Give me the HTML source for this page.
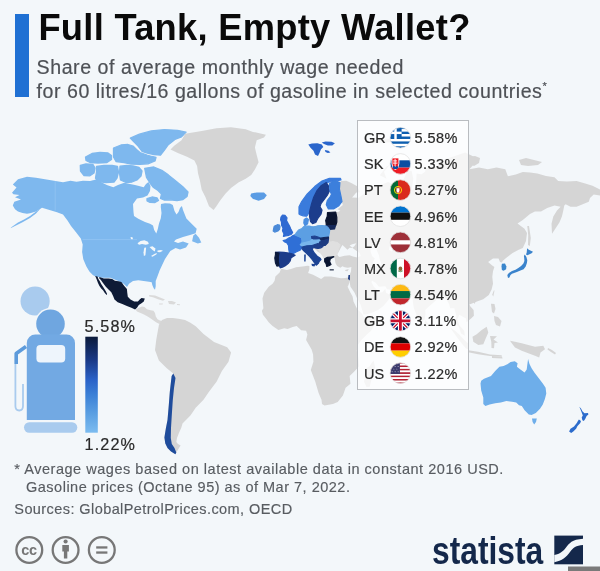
<!DOCTYPE html>
<html><head><meta charset="utf-8"><title>Full Tank, Empty Wallet?</title>
<style>
html,body{margin:0;padding:0;}
body{width:600px;height:571px;overflow:hidden;background:#f3f7fa;position:relative;font-family:'Liberation Sans', Arial, sans-serif;}
.abs{position:absolute;}
#bar{left:15px;top:14px;width:13.5px;height:83px;background:#1f70d3;}
#title{left:38.4px;top:6px;font-size:36.3px;font-weight:700;color:#0a0a0a;white-space:nowrap;line-height:44px;letter-spacing:0.28px;}
.sub{left:36.6px;font-size:19.6px;color:#4e5156;white-space:nowrap;letter-spacing:0.55px;-webkit-text-stroke:0.2px #4e5156;line-height:23px;}
.sub sup{font-size:11px;vertical-align:0;position:relative;top:-8px;letter-spacing:0;}
#map{left:0;top:0;}
#panel{left:357px;top:120px;width:109.5px;height:267.5px;background:rgba(255,255,255,0.76);border:1px solid #b9bcc0;}
.code{position:absolute;left:364px;font-size:14.5px;color:#2a2a2a;line-height:20px;-webkit-text-stroke:0.2px #2a2a2a;}
.val{position:absolute;left:414.5px;font-size:14.5px;color:#2a2a2a;line-height:20px;letter-spacing:0.45px;-webkit-text-stroke:0.2px #2a2a2a;}
.leg{font-size:16.2px;color:#2a2a2a;-webkit-text-stroke:0.2px #2a2a2a;white-space:nowrap;line-height:20px;letter-spacing:1.1px;}
.note{font-size:14.5px;color:#585c61;-webkit-text-stroke:0.15px #585c61;white-space:nowrap;line-height:18px;letter-spacing:0.45px;}
#statista{left:432px;top:529px;font-size:38.5px;font-weight:700;color:#14284b;white-space:nowrap;transform-origin:0 0;transform:scaleX(0.825);letter-spacing:0px;line-height:44px;}
</style></head><body>
<svg id="map" class="abs" width="600" height="571" viewBox="0 0 600 571">
<path fill="#7eb8ee" d="M18.0,179.3 27.0,176.7 36.0,177.7 45.0,179.3 54.0,180.8 63.0,182.3 70.5,180.8 76.5,181.8 83.0,180.7 90.0,181.0 96.0,179.6 101.0,182.0 106.8,185.0 113.3,187.2 118.0,185.0 124.2,182.8 130.0,184.0 135.0,185.0 139.0,186.0 143.7,187.2 146.0,184.0 148.5,182.0 150.5,186.0 150.0,191.0 147.5,195.5 143.0,197.5 137.0,198.5 133.0,204.0 133.5,212.0 134.0,216.0 138.3,218.8 145.0,222.0 150.0,223.8 153.0,225.5 154.2,230.0 156.3,233.5 157.8,229.0 159.0,223.5 160.8,218.3 161.5,213.0 160.8,207.0 161.0,204.0 165.0,203.2 170.0,203.5 172.8,205.0 174.5,211.0 176.5,214.5 178.5,212.0 180.0,208.0 181.9,206.0 183.0,210.0 186.4,218.5 192.1,224.2 196.7,228.7 195.6,233.3 190.0,235.0 183.0,237.0 176.0,239.5 174.0,241.5 178.0,243.0 183.0,241.5 188.7,243.5 186.0,247.5 180.0,249.5 175.6,248.0 170.3,251.0 167.0,256.0 165.0,258.9 161.7,266.0 159.7,270.3 157.7,275.7 155.7,281.0 155.7,286.3 155.0,289.7 153.7,288.3 152.3,285.0 151.7,282.3 149.0,281.7 143.7,281.0 138.3,280.3 133.0,281.0 129.0,283.7 127.0,287.0 123.7,283.7 118.3,281.0 110.3,277.7 102.3,277.7 95.6,276.4 93.1,275.2 89.4,271.5 86.4,266.6 83.3,259.2 82.1,251.9 82.7,244.5 80.8,238.4 76.0,232.3 71.0,226.1 67.5,220.5 63.0,214.5 57.0,212.3 49.5,210.0 42.0,207.8 36.0,211.5 30.0,213.2 27.0,213.8 22.5,213.0 18.0,211.5 15.0,209.3 12.8,205.5 14.3,201.8 21.0,199.5 15.0,197.3 19.5,195.0 13.5,194.3 12.0,192.8 16.5,187.5 12.8,184.5Z"/>
<path fill="#7eb8ee" d="M40.5,208.5 36.0,211.5 30.0,216.0 24.0,219.5 18.0,222.5 11.3,227.3 10.5,228.3 15.0,226.0 22.5,222.3 30.0,218.0 36.0,213.5Z"/>
<path fill="#7eb8ee" stroke="#7eb8ee" stroke-width="1.3" stroke-linejoin="round" d="M130.3,138.1 139.4,134.2 151.3,130.9 164.4,129.6 177.5,130.3 186.0,132.2 181.5,136.8 174.9,139.4 168.3,144.7 164.4,150.0 160.5,155.2 153.9,154.5 147.3,153.2 142.1,151.3 138.1,146.0 132.9,140.8Z"/>
<path fill="#7eb8ee" stroke="#7eb8ee" stroke-width="1.3" stroke-linejoin="round" d="M113.5,148.0 121.0,145.0 128.0,144.5 133.0,146.0 136.5,149.5 140.0,152.5 147.0,155.0 152.0,156.5 156.0,157.5 155.0,161.0 148.0,163.8 140.0,164.3 131.0,164.0 124.0,162.5 116.0,161.5 113.5,157.0Z"/>
<path fill="#7eb8ee" stroke="#7eb8ee" stroke-width="1.3" stroke-linejoin="round" d="M85.5,157.0 92.0,153.5 100.0,152.5 108.0,153.0 111.5,155.5 111.5,159.5 107.0,162.5 98.0,163.0 90.0,162.5 86.0,160.5Z"/>
<path fill="#7eb8ee" stroke="#7eb8ee" stroke-width="1.3" stroke-linejoin="round" d="M80.3,165.5 86.0,164.0 93.0,164.5 95.0,168.0 94.0,173.0 90.0,175.8 84.0,175.5 80.5,171.0Z"/>
<path fill="#7eb8ee" stroke="#7eb8ee" stroke-width="1.3" stroke-linejoin="round" d="M96.5,166.5 104.0,165.5 112.0,165.3 117.5,166.5 118.5,172.0 117.0,178.0 114.0,182.0 106.0,182.5 98.0,181.5 95.5,178.0 96.5,172.0Z"/>
<path fill="#7eb8ee" stroke="#7eb8ee" stroke-width="1.3" stroke-linejoin="round" d="M120.0,166.2 127.0,165.5 133.0,166.0 139.0,167.5 142.0,171.0 141.0,176.0 137.0,180.0 132.0,182.0 126.0,182.5 120.5,180.0 119.5,173.0Z"/>
<path fill="#7eb8ee" stroke="#7eb8ee" stroke-width="1.3" stroke-linejoin="round" d="M144.7,168.3 153.9,167.0 161.8,170.3 168.3,174.9 174.9,180.2 182.8,186.7 188.0,192.0 187.0,196.5 183.0,199.5 177.0,200.5 170.0,199.8 164.0,200.0 160.5,198.5 161.5,194.0 158.0,190.5 153.5,187.5 150.0,183.0 146.5,177.5Z"/>
<path fill="#7eb8ee" stroke="#7eb8ee" stroke-width="1.3" stroke-linejoin="round" d="M147.0,198.5 152.0,197.0 157.0,197.8 158.5,200.5 155.0,202.5 150.0,202.3 147.0,200.8Z"/>
<path fill="#f3f7fa" d="M137.5,243.3 140.5,241.0 144.3,240.3 148.0,241.8 148.8,244.0 145.8,244.8 142.0,244.0 139.0,244.8Z"/>
<path fill="#f3f7fa" d="M144.3,247.8 146.1,247.4 145.8,251.5 145.4,255.3 143.9,256.0 143.5,252.3Z"/>
<path fill="#f3f7fa" d="M149.5,247.0 152.5,246.3 155.5,248.5 154.8,251.5 152.5,250.0 151.0,248.5Z"/>
<path fill="#f3f7fa" d="M151.0,256.0 154.8,253.8 157.0,253.0 156.3,254.5 152.5,256.8Z"/>
<path fill="#f3f7fa" d="M157.5,250.5 161.0,250.0 163.0,250.8 160.0,252.3 157.5,252.0Z"/>
<path fill="#f3f7fa" d="M130.5,237.0 132.5,237.3 133.0,239.5 131.0,239.2Z"/>
<path fill="#7eb8ee" d="M193.3,235.6 195.6,233.8 199.0,237.8 201.3,242.4 197.8,243.5 192.1,241.3Z"/>
<path fill="#d5d5d5" d="M185.2,133.8 201.7,131.0 216.4,128.3 231.0,127.3 245.7,129.2 253.0,131.9 265.9,134.7 264.0,137.4 256.7,140.2 254.9,147.5 256.7,154.9 258.6,162.2 254.9,169.5 251.2,175.0 245.7,178.7 238.4,182.4 231.0,187.9 225.6,193.4 220.0,200.7 216.4,206.2 213.6,209.9 209.0,206.2 205.4,197.1 201.7,189.7 199.9,180.6 198.0,173.2 197.1,165.9 194.4,160.4 187.0,156.7 177.8,153.0 170.5,149.4 174.2,145.7 181.5,140.2Z"/>
<path fill="#5a9ce4" d="M251.2,193.4 256.7,192.5 264.0,192.5 266.8,195.2 264.0,198.9 258.6,200.7 253.0,198.9 250.3,196.1Z"/>
<path fill="#0e1b36" d="M99.3,277.0 103.9,278.4 108.5,278.4 112.2,278.9 114.9,280.7 118.6,281.2 121.4,282.1 124.1,285.8 126.9,289.0 127.3,293.1 127.8,296.8 130.5,299.5 134.2,301.4 137.9,301.4 139.7,299.5 141.5,298.1 144.8,298.6 143.8,301.4 141.5,303.2 138.8,305.0 137.0,307.8 135.1,309.6 131.4,307.8 126.9,305.9 122.3,304.1 117.7,302.3 114.5,299.5 113.1,295.9 111.3,292.2 108.5,289.4 105.8,286.7 103.0,283.0 100.7,279.8 99.3,278.4Z"/>
<path fill="#0e1b36" d="M95.2,276.1 97.5,276.6 98.4,278.9 99.8,281.2 101.2,283.9 103.5,287.6 105.8,291.3 107.1,294.0 106.7,294.9 104.8,293.1 103.0,290.3 101.2,288.5 99.3,285.8 98.0,283.0 96.6,279.3Z"/>
<path fill="#d9d9d9" d="M135.5,309.5 139.0,307.8 142.0,306.5 144.5,307.0 147.0,309.3 150.5,310.3 153.5,310.8 155.0,313.0 155.8,316.5 157.5,319.3 160.0,320.6 163.0,321.3 164.5,322.5 162.0,324.8 159.0,323.8 156.0,322.3 152.5,319.8 148.5,317.0 144.0,314.5 140.0,312.8 137.0,311.5Z"/>
<path fill="#dadada" d="M149.0,295.0 155.0,295.5 160.0,297.5 165.0,299.5 163.0,300.7 158.0,299.3 153.0,297.3 149.3,296.6Z"/>
<path fill="#dadada" d="M168.0,301.0 172.0,301.0 176.0,302.5 174.0,304.5 169.0,304.0Z"/>
<path fill="#dadada" d="M159.0,303.5 163.0,303.6 162.5,304.6 159.2,304.4Z"/>
<path fill="#dadada" d="M177.0,304.0 180.0,304.2 179.8,305.2 177.0,305.0Z"/>
<path fill="#d5d5d5" d="M158.9,325.0 162.0,320.0 167.0,318.0 173.0,318.0 180.0,319.0 185.0,320.0 190.0,322.5 195.7,326.3 203.5,334.1 214.0,342.0 227.2,347.3 231.1,352.5 228.5,361.7 221.9,370.9 216.7,381.4 208.8,392.0 203.5,399.8 195.7,407.7 190.4,415.6 182.5,423.5 181.2,428.0 178.9,433.1 177.0,438.0 176.3,441.9 178.0,444.0 180.6,445.4 179.0,448.0 176.3,452.4 175.4,454.2 171.0,451.5 167.5,448.0 165.3,443.6 164.4,437.5 165.8,428.8 167.5,420.0 168.8,405.0 169.8,392.0 170.7,384.0 173.3,373.5 166.8,368.3 158.9,360.4 155.0,349.9 156.3,339.4Z"/>
<path fill="#1f4c9c" d="M173.3,373.5 175.5,378.0 174.0,388.0 172.8,400.0 171.8,415.0 171.0,428.0 170.8,438.0 171.8,444.0 174.5,448.0 176.3,452.4 175.4,454.2 171.0,451.5 167.5,448.0 165.3,443.6 164.4,437.5 165.8,428.8 167.5,420.0 168.8,405.0 169.8,392.0 170.7,384.0 171.6,376.0Z"/>
<path fill="#d5d5d5" d="M281.1,268.7 286.8,269.9 291.0,268.9 296.0,267.2 304.4,266.3 307.4,265.7 309.4,266.1 309.4,269.3 308.1,272.9 313.1,274.7 321.1,279.1 324.5,276.4 331.2,276.4 341.1,278.2 345.1,278.0 348.5,277.6 349.6,281.7 348.5,285.1 347.6,286.7 350.5,292.7 352.6,296.6 353.5,301.5 355.8,306.3 357.2,309.1 362.2,313.9 363.5,316.7 366.4,318.6 371.4,317.7 376.9,316.2 376.1,319.5 373.9,325.2 371.1,330.8 366.9,334.5 361.4,340.1 357.5,345.6 356.8,350.9 358.3,356.9 359.2,366.3 353.8,372.0 349.6,375.9 350.5,383.7 345.6,387.7 342.9,395.5 337.7,401.9 332.9,404.0 324.5,405.6 322.0,404.0 321.5,399.8 318.6,392.9 315.3,381.7 310.8,370.1 313.4,361.8 313.1,354.6 311.6,349.4 306.1,340.1 307.4,334.5 306.1,330.8 301.1,330.2 296.7,326.1 292.7,327.0 287.6,328.9 284.3,328.3 278.4,330.0 272.6,326.1 268.9,322.4 265.9,318.6 262.9,314.8 261.9,310.7 263.4,308.2 262.5,298.6 264.2,292.7 268.7,286.7 272.6,283.7 274.6,280.7 275.4,276.6 279.6,272.4Z"/>
<path fill="#d5d5d5" d="M373.6,360.6 375.1,367.3 373.7,372.0 371.4,379.8 369.7,386.7 366.5,386.9 364.0,381.7 365.2,375.9 365.5,368.2 369.7,366.3 371.9,362.5Z"/>
<path fill="#d5d5d5" d="M341.2,181.0 346.3,180.7 351.3,183.0 357.2,186.2 360.0,192.2 356.3,192.5 352.1,197.4 358.8,197.7 364.7,193.1 364.7,186.9 369.7,187.8 380.6,184.9 388.1,182.0 393.2,184.3 399.9,182.0 404.9,185.3 403.2,180.3 407.4,170.7 411.6,170.7 413.3,178.7 411.6,190.6 415.8,186.9 416.6,173.5 421.6,174.2 425.0,171.8 425.8,168.2 436.7,166.4 440.1,160.9 451.8,157.1 465.2,152.4 478.6,159.0 469.4,169.3 479.0,167.5 487.8,169.3 496.5,167.5 505.3,169.3 507.9,176.3 515.8,174.5 522.8,171.9 530.0,172.4 537.4,173.6 546.0,176.0 554.5,177.3 558.2,181.0 566.8,181.5 576.6,181.0 585.2,183.4 592.5,185.8 600.0,189.5 606.0,192.0 606.0,197.0 600.0,195.6 593.7,194.4 590.0,198.0 588.8,201.8 582.7,204.2 576.6,206.7 570.5,206.7 565.6,204.2 564.3,205.5 563.1,211.6 561.9,216.5 559.4,222.6 554.5,230.0 552.0,233.7 551.5,223.8 553.3,216.5 557.0,210.4 560.6,206.7 554.5,205.5 547.2,207.9 541.0,211.6 534.9,211.6 530.0,214.0 522.8,220.0 517.5,223.6 524.5,228.8 527.0,233.0 526.0,241.0 522.8,248.0 518.2,250.0 512.6,253.0 507.0,257.2 502.8,260.7 502.0,262.5 500.0,262.0 498.6,258.6 493.0,258.6 488.1,262.1 491.6,265.0 494.4,267.0 493.0,271.2 492.3,276.8 493.0,283.8 491.6,289.4 488.8,295.0 483.2,299.2 477.6,301.3 472.0,303.4 467.8,305.0 468.6,302.4 470.2,306.3 473.6,310.1 473.9,315.8 471.1,318.6 466.5,322.2 466.0,318.6 459.3,314.8 457.3,319.5 459.3,325.2 464.2,330.8 464.9,335.8 461.0,333.5 459.0,327.0 455.7,323.3 456.3,315.8 454.3,308.2 450.1,308.2 449.3,304.4 445.9,298.6 443.4,295.6 440.1,296.6 436.7,297.6 435.9,300.5 429.2,306.3 425.3,310.1 425.5,313.9 424.7,319.5 420.8,323.1 418.6,319.5 416.1,313.9 413.9,308.2 412.9,302.4 412.6,298.6 412.4,296.0 408.2,298.6 406.2,295.6 404.9,292.7 403.2,291.1 396.5,290.1 392.5,290.1 387.0,289.3 385.3,286.3 378.9,286.7 375.6,282.7 372.2,280.7 371.4,281.9 373.9,286.7 376.8,289.7 378.1,292.7 382.3,292.3 385.3,288.7 386.1,292.7 391.2,295.6 388.1,300.5 383.1,306.3 378.1,310.1 371.4,312.9 366.4,314.3 363.5,314.6 362.2,310.1 360.5,304.4 356.7,297.6 354.6,292.7 350.5,286.7 349.6,281.7 348.5,277.6 349.8,274.5 351.0,271.4 351.3,267.2 351.5,267.0 347.9,267.8 344.6,267.2 342.4,266.3 340.4,267.8 337.1,266.1 335.4,262.9 334.9,259.6 334.6,257.8 329.5,258.5 324.8,260.7 323.5,257.4 322.0,254.1 317.8,251.8 314.4,248.4 313.9,247.0 313.9,244.9 312.8,242.6 314.1,239.7 311.4,235.8 316.1,234.1 314.8,226.6 318.6,225.3 322.2,225.6 324.5,225.3 326.3,222.2 326.5,218.8 327.9,217.5 331.4,218.8 330.4,215.3 332.4,212.3 337.9,212.0 340.4,210.7 337.6,209.3 342.9,205.0 340.7,199.2 340.4,193.1 338.7,186.9 339.2,183.6Z"/>
<path fill="#f3f7fa" d="M339.6,257.0 344.6,255.8 349.6,255.2 353.0,256.5 357.2,257.4 360.7,256.1 359.7,252.9 354.6,249.5 352.6,247.9 349.6,247.7 347.4,249.8 345.4,247.7 342.4,244.9 340.7,247.9 338.7,251.8 337.2,254.1 338.1,256.1Z"/>
<path fill="#f3f7fa" d="M356.3,243.3 354.6,246.1 352.5,247.7 349.6,245.4 352.1,244.2Z"/>
<path fill="#f3f7fa" d="M376.4,243.7 379.8,244.9 376.4,249.5 378.9,255.2 379.8,259.6 381.4,264.4 378.1,266.7 373.9,265.5 373.1,261.8 374.8,258.5 372.2,256.3 370.6,251.8 370.6,248.4 373.1,244.9Z"/>
<path fill="#f3f7fa" d="M389.8,246.1 394.0,248.4 391.5,251.8 389.0,249.5Z"/>
<path fill="#e0e0e0" stroke="#e0e0e0" stroke-width="1.2" stroke-linejoin="round" d="M318.0,248.5 321.0,247.8 323.0,246.5 325.0,245.5 328.0,242.5 333.0,241.5 337.0,242.5 340.0,245.0 338.5,249.0 337.5,252.5 336.0,255.0 333.8,256.7 331.0,257.0 327.5,257.4 324.7,258.8 323.0,256.0 320.5,252.5Z"/>
<path fill="#d5d5d5" d="M425.3,319.9 428.0,323.3 427.0,327.0 425.0,326.7 424.7,323.3Z"/>
<path fill="#d5d5d5" d="M345.1,269.9 348.8,269.1 347.6,271.2 345.4,271.0Z"/>
<path fill="#d5d5d5" d="M450.6,327.8 455.1,330.8 459.3,334.5 464.4,340.1 468.6,343.8 468.2,349.2 466.0,348.4 461.9,343.8 457.7,338.2 454.3,333.5 451.0,328.9Z"/>
<path fill="#d5d5d5" d="M468.3,350.3 478.0,351.8 490.0,354.5 501.7,355.3 501.7,356.6 490.0,356.0 478.0,354.3 468.3,352.2Z"/>
<path fill="#d5d5d5" d="M492.0,356.0 502.0,356.5 502.5,358.5 492.0,358.0Z"/>
<path fill="#d5d5d5" d="M486.7,326.7 488.3,332.5 485.8,338.3 483.3,344.2 478.3,345.0 473.3,341.7 472.5,336.7 476.7,334.2 481.7,330.0Z"/>
<path fill="#d5d5d5" d="M490.0,336.0 497.0,336.3 493.5,339.5 498.0,342.5 494.5,343.0 494.0,348.3 491.5,348.0 491.3,342.0Z"/>
<path fill="#d5d5d5" d="M510.0,340.8 515.0,341.7 521.7,343.3 528.3,345.0 535.0,346.7 543.3,345.8 545.0,349.2 540.5,352.5 539.2,357.5 535.0,355.8 528.3,353.3 521.7,350.8 515.0,347.5 512.5,344.2Z"/>
<path fill="#d5d5d5" d="M548.0,348.0 552.0,350.0 556.0,353.0 555.0,354.5 551.0,352.0 547.5,349.5Z"/>
<path fill="#d5d5d5" d="M491.0,303.7 494.5,304.0 495.5,309.0 494.0,313.5 492.0,312.0 491.5,308.0Z"/>
<path fill="#d5d5d5" d="M494.0,316.0 498.0,317.0 501.5,321.0 500.0,326.5 496.0,325.0 494.5,321.0Z"/>
<path fill="#d5d5d5" d="M494.5,290.3 493.3,296.6 492.2,294.7 493.7,290.7Z"/>
<path fill="#d5d5d5" d="M476.1,300.5 474.4,304.0 473.1,301.5Z"/>
<path fill="#d5d5d5" d="M527.3,226.0 529.0,226.0 530.8,238.0 529.8,246.0 528.0,245.0 528.2,235.0Z"/>
<path fill="#d5d5d5" d="M469.4,157.0 475.0,156.0 480.0,158.0 479.0,163.0 474.0,166.0 470.0,164.0Z"/>
<path fill="#d5d5d5" d="M519.0,160.0 526.0,158.0 534.0,160.0 542.0,162.0 538.0,165.0 528.0,166.0 521.0,165.0Z"/>
<path fill="#d5d5d5" d="M393.2,157.1 404.9,155.5 401.6,159.0 386.5,166.4 379.8,175.3 386.5,178.7 384.0,171.8 391.5,162.8Z"/>
<path fill="#d5d5d5" d="M369.7,140.8 391.5,138.6 394.9,142.1 374.8,142.9Z"/>
<path fill="#3a83cc" d="M527.1,248.3 528.8,249.7 530.9,250.8 533.0,251.8 531.6,253.2 529.5,254.3 527.4,255.3 526.0,254.6 526.7,252.5 526.9,250.4Z"/>
<path fill="#3a83cc" d="M524.8,254.5 526.4,257.1 527.3,260.2 526.9,263.0 525.7,266.5 523.6,269.3 520.4,270.6 516.9,272.0 514.1,273.0 512.0,273.8 510.5,275.0 509.4,277.4 508.0,277.9 507.3,274.9 508.9,273.0 512.0,271.0 515.5,269.8 518.3,267.9 521.1,266.0 523.4,263.5 524.4,260.9 524.2,258.1 523.9,256.0Z"/>
<path fill="#3a86cc" d="M501.9,263.7 505.0,263.4 506.4,266.5 506.1,269.3 503.6,270.7 501.9,270.0 501.5,266.5Z"/>
<path fill="#6eaeea" d="M481.2,380.8 484.0,378.7 491.0,375.9 495.2,371.0 499.4,366.8 503.6,366.1 507.8,364.0 510.6,361.9 514.8,361.2 517.6,363.3 516.9,366.8 520.4,369.6 524.6,372.4 526.7,369.6 527.4,364.0 528.1,359.1 529.5,364.0 531.6,368.2 534.4,372.4 538.6,378.0 542.8,383.6 545.6,387.8 546.3,393.4 544.9,399.0 542.8,404.6 540.0,408.8 535.8,413.0 531.6,415.1 528.8,414.4 524.6,410.2 521.8,406.0 519.0,405.3 516.2,402.5 512.0,401.8 506.4,401.1 500.8,402.5 495.2,403.2 489.6,404.6 485.4,406.0 483.3,403.9 483.3,397.6 481.2,390.6 480.5,383.6Z"/>
<path fill="#6eaeea" d="M532.0,418.6 536.8,418.6 536.0,422.0 534.2,424.4 532.6,422.0Z"/>
<path fill="#2c6ccc" d="M579.3,406.7 581.0,408.4 582.4,411.2 584.5,413.3 588.0,413.0 588.4,414.4 586.6,416.1 585.2,418.9 583.8,421.0 582.4,420.3 581.7,417.5 582.8,415.4 581.7,412.6 580.3,409.1Z"/>
<path fill="#2c6ccc" d="M578.9,419.6 581.0,421.0 580.3,423.1 577.5,425.9 576.1,428.7 573.3,431.5 571.2,432.9 569.1,431.5 570.5,428.7 574.0,426.6 576.8,423.1 577.9,421.0Z"/>
<path fill="#3a7bdc" stroke="#3a7bdc" stroke-width="1.2" stroke-linejoin="round" d="M299.0,214.0 299.0,206.8 301.8,201.3 307.3,193.9 314.7,186.6 322.0,181.0 329.4,178.3 340.4,178.3 341.0,180.0 336.0,181.0 330.0,182.0 326.3,182.6 321.0,185.8 316.8,191.0 313.7,197.3 311.6,203.6 310.5,208.0 309.5,212.0 307.4,215.2 306.3,216.2 303.2,215.8 300.5,215.0Z"/>
<path fill="#1c3d8c" stroke="#1c3d8c" stroke-width="1.2" stroke-linejoin="round" d="M326.3,182.6 328.4,185.8 329.4,191.0 327.3,195.2 324.2,199.4 321.0,203.6 320.0,206.8 322.0,210.0 321.0,214.1 317.9,218.3 315.8,222.5 312.6,223.6 310.5,221.5 309.5,216.2 309.5,212.0 311.6,203.6 313.7,197.3 316.8,191.0 321.0,185.8Z"/>
<path fill="#3c7fdc" stroke="#3c7fdc" stroke-width="1.2" stroke-linejoin="round" d="M329.4,183.7 334.7,180.5 339.9,182.6 339.4,188.9 341.0,196.3 342.0,201.5 338.9,205.7 333.6,208.9 328.4,208.9 326.3,204.7 327.3,200.5 330.5,196.3 331.5,194.2 330.0,191.0Z"/>
<path fill="#0b1530" stroke="#0b1530" stroke-width="1.2" stroke-linejoin="round" d="M327.5,212.5 335.7,212.0 336.8,217.3 336.8,222.0 335.7,225.5 330.0,226.0 326.5,225.5 325.7,220.4 327.3,216.2Z"/>
<path fill="#14285a" stroke="#14285a" stroke-width="1.2" stroke-linejoin="round" d="M326.0,225.5 335.5,225.5 334.5,229.0 329.0,229.5 326.0,228.0Z"/>
<path fill="#4a8ee0" stroke="#4a8ee0" stroke-width="1.2" stroke-linejoin="round" d="M304.2,219.4 306.5,218.0 308.4,219.5 307.6,223.7 305.0,225.7 303.8,223.0Z"/>
<path fill="#2f6ad2" stroke="#2f6ad2" stroke-width="1.2" stroke-linejoin="round" d="M282.5,215.0 285.0,215.3 287.0,217.8 286.5,220.5 288.0,223.4 289.5,226.0 290.8,228.9 292.6,232.6 291.0,234.5 288.9,235.3 285.5,236.0 283.4,236.4 284.0,234.0 282.5,230.7 283.0,228.0 281.6,225.2 281.5,222.0 280.6,219.7 281.0,217.0Z"/>
<path fill="#4a8ad8" stroke="#4a8ad8" stroke-width="1.2" stroke-linejoin="round" d="M274.2,226.3 277.4,224.7 279.5,225.2 280.0,226.8 279.5,229.4 277.9,231.0 274.7,232.1 273.2,231.0 273.7,228.4Z"/>
<path fill="#2f6fd6" stroke="#2f6fd6" stroke-width="1.2" stroke-linejoin="round" d="M283.2,240.5 286.0,239.8 288.1,238.4 290.9,237.0 293.0,235.6 295.1,234.9 297.9,236.3 301.4,237.7 302.1,241.2 300.7,244.7 302.1,247.5 300.0,250.3 296.5,251.7 293.0,253.8 289.5,253.1 288.8,249.6 288.5,245.4 286.7,242.6 284.6,241.9Z"/>
<path fill="#5c9fe3" stroke="#5c9fe3" stroke-width="1.2" stroke-linejoin="round" d="M295.1,234.9 296.5,232.5 298.5,230.0 302.0,228.5 304.0,226.5 306.0,226.2 309.0,226.0 311.3,226.6 314.5,226.8 315.0,230.0 314.7,233.5 313.6,236.0 311.5,236.5 312.0,239.0 310.5,241.5 307.0,242.5 302.5,243.5 300.7,244.7 302.1,241.2 301.4,237.7 297.9,236.3Z"/>
<path fill="#5ea1e3" stroke="#5ea1e3" stroke-width="1.2" stroke-linejoin="round" d="M314.5,226.8 318.0,225.8 322.0,225.6 326.0,226.0 328.0,227.5 329.7,230.0 329.3,233.0 328.5,237.0 324.0,237.5 321.0,238.2 318.0,237.0 314.7,236.0 314.7,233.5 315.0,230.0Z"/>
<path fill="#1f4290" stroke="#1f4290" stroke-width="1.2" stroke-linejoin="round" d="M311.5,236.5 314.7,236.0 318.0,237.0 321.0,238.2 319.5,239.8 316.0,240.2 313.0,240.0 312.0,239.0Z"/>
<path fill="#13295e" stroke="#13295e" stroke-width="1.2" stroke-linejoin="round" d="M319.5,239.8 321.0,238.2 324.0,237.5 328.5,237.0 328.5,239.0 324.0,240.5 320.0,240.8Z"/>
<path fill="#1c3a80" stroke="#1c3a80" stroke-width="1.2" stroke-linejoin="round" d="M318.5,241.3 320.0,240.8 324.0,240.5 328.5,239.0 328.0,242.5 325.0,245.5 320.0,245.5 318.0,243.5Z"/>
<path fill="#78b6ec" stroke="#78b6ec" stroke-width="1.2" stroke-linejoin="round" d="M300.3,244.7 302.5,243.0 307.0,242.0 310.5,241.2 312.0,239.5 313.0,240.0 316.0,240.2 319.5,239.8 320.0,240.8 318.5,241.3 318.0,243.5 314.0,244.8 309.0,245.6 303.0,246.6Z"/>
<path fill="#1e3f8a" stroke="#1e3f8a" stroke-width="1.2" stroke-linejoin="round" d="M312.0,245.5 318.0,243.5 320.0,245.5 323.0,246.5 321.0,247.8 318.0,248.5 315.0,248.0Z"/>
<path fill="#1d4494" stroke="#1d4494" stroke-width="1.2" stroke-linejoin="round" d="M302.0,247.0 307.0,245.8 311.5,245.5 313.5,247.3 312.3,249.5 314.3,253.0 317.2,256.2 320.2,258.3 321.0,259.6 319.3,261.2 318.3,263.4 316.2,265.2 314.4,262.7 312.3,259.6 309.8,256.6 306.8,253.6 303.8,250.8 302.3,249.0Z"/>
<path fill="#1d4494" d="M311.4,263.7 315.6,264.0 314.5,266.5 312.0,266.0Z"/>
<path fill="#1d4494" d="M304.2,254.5 305.8,254.5 305.6,261.5 304.2,261.5Z"/>
<path fill="#1b3c8a" stroke="#1b3c8a" stroke-width="1.2" stroke-linejoin="round" d="M275.5,252.4 279.0,252.1 283.9,252.4 288.8,253.1 293.0,254.2 295.1,255.2 293.0,256.6 290.9,258.0 290.2,260.8 288.1,263.6 285.3,265.7 282.5,267.1 280.4,267.8 279.0,265.7 278.3,261.5 278.3,256.6 279.0,253.1Z"/>
<path fill="#0b1a3c" stroke="#0b1a3c" stroke-width="1.2" stroke-linejoin="round" d="M275.5,252.4 279.0,253.1 278.3,256.6 278.3,261.5 279.0,265.7 276.9,266.1 275.5,262.9 274.8,258.0 275.5,254.5Z"/>
<path fill="#0a1632" stroke="#0a1632" stroke-width="1.2" stroke-linejoin="round" d="M324.7,258.8 327.5,257.4 331.0,257.0 333.8,256.7 330.3,258.8 329.6,261.6 331.0,264.4 328.9,265.8 326.8,266.5 326.1,263.7 324.7,261.6Z"/>
<path fill="#0a1632" d="M329.6,269.3 333.8,269.3 333.8,270.4 329.6,270.4Z"/>
<path fill="#2a66cc" d="M308.3,144.4 312.0,143.6 317.3,143.3 321.8,144.4 323.3,147.0 321.0,149.3 319.5,153.0 318.0,156.0 315.0,154.5 313.5,150.8 310.5,147.8Z"/>
<path fill="#1c3a80" d="M348.5,275.0 350.0,275.0 349.8,280.4 348.0,279.0Z"/>
<path fill="#2a66cc" d="M321.8,142.5 325.5,141.4 331.5,141.8 334.9,143.3 332.3,145.5 327.8,145.5 324.0,144.0Z"/>
<path fill="#2a66cc" d="M324.8,150.0 328.5,150.8 330.4,152.6 327.8,153.0 325.5,151.9Z"/>
<path d="M82.5,239.6 H137 M55.2,181 V210.5" stroke="#96c6f3" stroke-width="0.7" fill="none"/>
</svg>
<div id="bar" class="abs"></div>
<div id="title" class="abs">Full Tank, Empty Wallet?</div>
<div class="abs sub" style="top:56px">Share of average monthly wage needed</div>
<div class="abs sub" style="top:80.2px;letter-spacing:0.515px">for 60 litres/16 gallons of gasoline in selected countries<sup>*</sup></div>
<div id="panel" class="abs"></div>
<div class="code" style="top:128.15px">GR</div><div class="val" style="top:128.15px">5.58%</div><div class="code" style="top:154.30px">SK</div><div class="val" style="top:154.30px">5.33%</div><div class="code" style="top:180.45px">PT</div><div class="val" style="top:180.45px">5.27%</div><div class="code" style="top:206.60px">EE</div><div class="val" style="top:206.60px">4.96%</div><div class="code" style="top:232.75px">LV</div><div class="val" style="top:232.75px">4.81%</div><div class="code" style="top:258.90px">MX</div><div class="val" style="top:258.90px">4.78%</div><div class="code" style="top:285.05px">LT</div><div class="val" style="top:285.05px">4.54%</div><div class="code" style="top:311.20px">GB</div><div class="val" style="top:311.20px">3.11%</div><div class="code" style="top:337.35px">DE</div><div class="val" style="top:337.35px">2.92%</div><div class="code" style="top:363.50px">US</div><div class="val" style="top:363.50px">1.22%</div>
<svg class="abs" style="left:0;top:0" width="600" height="571" viewBox="0 0 600 571">
<defs><clipPath id="fc"><circle r="10.3"/></clipPath>
<linearGradient id="lg" x1="0" y1="0" x2="0" y2="1">
<stop offset="0" stop-color="#0b1a3a"/><stop offset="0.25" stop-color="#1a3a88"/><stop offset="0.45" stop-color="#2a62c8"/>
<stop offset="0.6" stop-color="#3a7fd6"/><stop offset="0.8" stop-color="#5a9fe2"/><stop offset="1" stop-color="#7cbcf0"/></linearGradient></defs>
<g transform="translate(400.4,137.75)"><g clip-path="url(#fc)"><rect x="-11" y="-11.00" width="22" height="2.49" fill="#0d5eaf"/><rect x="-11" y="-8.56" width="22" height="2.49" fill="#fff"/><rect x="-11" y="-6.11" width="22" height="2.49" fill="#0d5eaf"/><rect x="-11" y="-3.67" width="22" height="2.49" fill="#fff"/><rect x="-11" y="-1.22" width="22" height="2.49" fill="#0d5eaf"/><rect x="-11" y="1.22" width="22" height="2.49" fill="#fff"/><rect x="-11" y="3.67" width="22" height="2.49" fill="#0d5eaf"/><rect x="-11" y="6.11" width="22" height="2.49" fill="#fff"/><rect x="-11" y="8.56" width="22" height="2.49" fill="#0d5eaf"/><rect x="-11" y="-11" width="12.22" height="12.22" fill="#0d5eaf"/><rect x="-11" y="-6.11" width="12.22" height="2.44" fill="#fff"/><rect x="-6.11" y="-11" width="2.44" height="12.22" fill="#fff"/></g><circle r="10.3" fill="none" stroke="#e2e2e2" stroke-width="0.8"/></g><g transform="translate(400.4,163.90)"><g clip-path="url(#fc)"><rect x="-11" y="-11" width="22" height="7.4" fill="#fff"/><rect x="-11" y="-3.6" width="22" height="7.3" fill="#0b4ea2"/><rect x="-11" y="3.7" width="22" height="7.4" fill="#ee1c25"/><path d="M-8.5,-6 h7 v5.5 q0,4.5 -3.5,6.5 q-3.5,-2 -3.5,-6.5z" fill="#ee1c25" stroke="#fff" stroke-width="0.9"/><path d="M-5.3,-5 v9 M-7.2,-3 h3.8 M-7.6,-0.8 h4.6" stroke="#fff" stroke-width="0.9"/><path d="M-8,3 q1.5,-2 3,0 q1.5,-2 3,0 l-1,2 h-4z" fill="#0b4ea2"/></g><circle r="10.3" fill="none" stroke="#e2e2e2" stroke-width="0.8"/></g><g transform="translate(400.4,190.05)"><g clip-path="url(#fc)"><rect x="-11" y="-11" width="22" height="22" fill="#da291c"/><rect x="-11" y="-11" width="8.6" height="22" fill="#046a38"/><circle cx="-2.4" cy="0" r="3.6" fill="none" stroke="#ffe000" stroke-width="1"/><path d="M-4.2,-2.2h3.6v2.8q0,1.8-1.8,2.6q-1.8,-0.8-1.8,-2.6z" fill="#fff" stroke="#da291c" stroke-width="0.6"/></g><circle r="10.3" fill="none" stroke="#e2e2e2" stroke-width="0.8"/></g><g transform="translate(400.4,216.20)"><g clip-path="url(#fc)"><rect x="-11" y="-11" width="22" height="7.4" fill="#0072ce"/><rect x="-11" y="-3.6" width="22" height="7.3" fill="#111"/><rect x="-11" y="3.7" width="22" height="7.4" fill="#fff"/></g><circle r="10.3" fill="none" stroke="#e2e2e2" stroke-width="0.8"/></g><g transform="translate(400.4,242.35)"><g clip-path="url(#fc)"><rect x="-11" y="-11" width="22" height="22" fill="#9e3039"/><rect x="-11" y="-2.1" width="22" height="4.2" fill="#fff"/></g><circle r="10.3" fill="none" stroke="#e2e2e2" stroke-width="0.8"/></g><g transform="translate(400.4,268.50)"><g clip-path="url(#fc)"><rect x="-11" y="-11" width="22" height="22" fill="#fff"/><rect x="-11" y="-11" width="7.4" height="22" fill="#006847"/><rect x="3.6" y="-11" width="7.4" height="22" fill="#ce1126"/><ellipse cx="0" cy="0.3" rx="1.9" ry="2.3" fill="#8c6a3a"/><path d="M-2.3,2.4 q2.3,1.6 4.6,0" stroke="#3a7a3a" stroke-width="0.8" fill="none"/></g><circle r="10.3" fill="none" stroke="#e2e2e2" stroke-width="0.8"/></g><g transform="translate(400.4,294.65)"><g clip-path="url(#fc)"><rect x="-11" y="-11" width="22" height="7.4" fill="#fdb913"/><rect x="-11" y="-3.6" width="22" height="7.3" fill="#006a44"/><rect x="-11" y="3.7" width="22" height="7.4" fill="#c1272d"/></g><circle r="10.3" fill="none" stroke="#e2e2e2" stroke-width="0.8"/></g><g transform="translate(400.4,320.80)"><g clip-path="url(#fc)"><rect x="-11" y="-11" width="22" height="22" fill="#012169"/><path d="M-11,-11 L11,11 M11,-11 L-11,11" stroke="#fff" stroke-width="3.6"/><path d="M-11,-11 L11,11 M11,-11 L-11,11" stroke="#c8102e" stroke-width="1.3"/><path d="M0,-11 V11 M-11,0 H11" stroke="#fff" stroke-width="5"/><path d="M0,-11 V11 M-11,0 H11" stroke="#c8102e" stroke-width="2.8"/></g><circle r="10.3" fill="none" stroke="#e2e2e2" stroke-width="0.8"/></g><g transform="translate(400.4,346.95)"><g clip-path="url(#fc)"><rect x="-11" y="-11" width="22" height="7.4" fill="#111"/><rect x="-11" y="-3.6" width="22" height="7.3" fill="#dd0000"/><rect x="-11" y="3.7" width="22" height="7.4" fill="#ffce00"/></g><circle r="10.3" fill="none" stroke="#e2e2e2" stroke-width="0.8"/></g><g transform="translate(400.4,373.10)"><g clip-path="url(#fc)"><rect x="-11" y="-11.00" width="22" height="1.74" fill="#b22234"/><rect x="-11" y="-9.31" width="22" height="1.74" fill="#fff"/><rect x="-11" y="-7.62" width="22" height="1.74" fill="#b22234"/><rect x="-11" y="-5.92" width="22" height="1.74" fill="#fff"/><rect x="-11" y="-4.23" width="22" height="1.74" fill="#b22234"/><rect x="-11" y="-2.54" width="22" height="1.74" fill="#fff"/><rect x="-11" y="-0.85" width="22" height="1.74" fill="#b22234"/><rect x="-11" y="0.85" width="22" height="1.74" fill="#fff"/><rect x="-11" y="2.54" width="22" height="1.74" fill="#b22234"/><rect x="-11" y="4.23" width="22" height="1.74" fill="#fff"/><rect x="-11" y="5.92" width="22" height="1.74" fill="#b22234"/><rect x="-11" y="7.62" width="22" height="1.74" fill="#fff"/><rect x="-11" y="9.31" width="22" height="1.74" fill="#b22234"/><rect x="-11" y="-11" width="10.5" height="11.85" fill="#3c3b6e"/><circle cx="-9.5" cy="-9.2" r="0.45" fill="#fff"/><circle cx="-6.5" cy="-9.2" r="0.45" fill="#fff"/><circle cx="-3.5" cy="-9.2" r="0.45" fill="#fff"/><circle cx="-8.3" cy="-6.6" r="0.45" fill="#fff"/><circle cx="-5.3" cy="-6.6" r="0.45" fill="#fff"/><circle cx="-2.3" cy="-6.6" r="0.45" fill="#fff"/><circle cx="-9.5" cy="-4.0" r="0.45" fill="#fff"/><circle cx="-6.5" cy="-4.0" r="0.45" fill="#fff"/><circle cx="-3.5" cy="-4.0" r="0.45" fill="#fff"/><circle cx="-8.3" cy="-1.4" r="0.45" fill="#fff"/><circle cx="-5.3" cy="-1.4" r="0.45" fill="#fff"/><circle cx="-2.3" cy="-1.4" r="0.45" fill="#fff"/></g><circle r="10.3" fill="none" stroke="#e2e2e2" stroke-width="0.8"/></g>
<rect x="85.3" y="336.7" width="12.5" height="96" fill="url(#lg)"/>
<!-- pump -->
<circle cx="35.1" cy="301" r="14.6" fill="#a9cbee"/>
<circle cx="50.5" cy="323.8" r="15.8" fill="#f3f7fa"/>
<circle cx="50.5" cy="323.8" r="14.3" fill="#6fa6e0"/>
<path d="M26.8,343 a8.5,8.5 0 0 1 8.5,-8.5 h31.2 a8.5,8.5 0 0 1 8.5,8.5 V420 H26.8 Z" fill="#72a9e3"/>
<rect x="36.4" y="345" width="28.8" height="17.6" rx="4" fill="#eef5fc"/>
<rect x="24" y="422.3" width="53.3" height="10.4" rx="5.2" fill="#a9cbee"/>
<path d="M26,346.5 L16.2,353.5 V364" stroke="#5d9bdb" stroke-width="3.6" fill="none" stroke-linejoin="round"/>
<path d="M15.4,364 V406 q0,4.5 3.8,4.5 q3.8,0 3.8,-4.5 V384" stroke="#a9cbee" stroke-width="1.8" fill="none"/>
<!-- cc icons -->
<g fill="none" stroke="#777" stroke-width="2.3">
<circle cx="29.3" cy="550" r="12.9"/><circle cx="65.6" cy="550" r="12.9"/><circle cx="101.8" cy="550" r="12.9"/>
</g>
<text x="29" y="555.2" text-anchor="middle" font-family="Liberation Sans" font-weight="700" font-size="14.5" fill="#777" letter-spacing="-0.4">cc</text>
<circle cx="65.6" cy="541.5" r="2.1" fill="#777"/>
<path d="M62.3,545 h6.6 v6.5 h-1.6 v7 h-3.4 v-7 h-1.6 z" fill="#777"/>
<rect x="96.2" y="546.3" width="11.2" height="2.3" fill="#777"/><rect x="96.2" y="551.4" width="11.2" height="2.3" fill="#777"/>
<!-- statista mark -->
<rect x="554.3" y="535.6" width="28.7" height="28.7" fill="#14284b"/>
<path d="M554.3,554.9 C560,554 563,551.5 566,547.5 C569,543.5 572,539.5 583,538.8 L583,545 C576,545.3 573,548 570,552 C566.5,557 562,561 554.3,562.2 Z" fill="#f3f7fa"/>
<rect x="568" y="566.5" width="32" height="4.5" fill="#7a7a7a"/>
</svg>
<div class="abs leg" style="left:84.6px;top:316.3px">5.58%</div>
<div class="abs leg" style="left:84.6px;top:434.4px">1.22%</div>
<div class="abs note" style="left:14.3px;top:460.3px;letter-spacing:0.53px">* Average wages based on latest available data in constant 2016 USD.</div>
<div class="abs note" style="left:26px;top:478.3px;letter-spacing:0.5px">Gasoline prices (Octane 95) as of Mar 7, 2022.</div>
<div class="abs note" style="left:14.3px;top:499.8px;letter-spacing:0.42px">Sources: GlobalPetrolPrices.com, OECD</div>
<div id="statista" class="abs">statista</div>
</body></html>
